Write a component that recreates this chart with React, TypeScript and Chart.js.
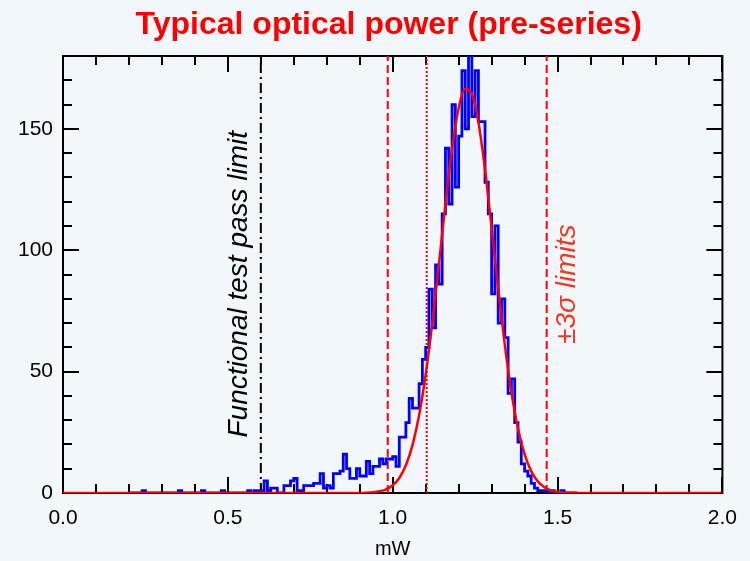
import React, { useEffect, useRef } from 'react';
import { Chart, registerables } from 'chart.js';

Chart.register(...registerables);

// ---- data ----
const HIST_START = 0.2; // mW, left edge of first bin
const BIN_WIDTH = 0.01; // mW
const histCounts = [
  0, 0, 0, 0, 1, 0, 0, 0, 0, 0, // 0.20
  0, 0, 0, 0, 0, 1, 0, 0, 0, 0, // 0.30
  0, 0, 1, 0, 0, 0, 0, 0, 1, 0, // 0.40
  0, 0, 0, 0, 0, 0, 1, 0, 1, 1, // 0.50
  1, 5, 1, 2, 2, 0, 0, 3, 3, 5, // 0.60
  6, 1, 1, 3, 3, 3, 4, 4, 8, 2, // 0.70
  3, 2, 8, 8, 9, 16, 10, 6, 6, 10, // 0.80
  7, 7, 13, 8, 11, 11, 14, 12, 14, 14, // 0.90
  15, 11, 23, 23, 29, 39, 35, 35, 45, 55, // 1.00
  60, 84, 68, 94, 86, 115, 142, 119, 160, 126, // 1.10
  147, 174, 150, 182, 155, 174, 153, 153, 128, 115, // 1.20
  82, 110, 70, 80, 64, 41, 47, 29, 21, 12, // 1.30
  9, 7, 4, 2, 1, 1, 1, 0, 1, 0, // 1.40
  0, 1, 0, 0, 0, 0, // 1.50
];

const gaussX = [
  0, 0.9, 0.92, 0.94, 0.96, 0.98, 1.0, 1.02, 1.04, 1.06, 1.08, 1.1, 1.12, 1.14,
  1.16, 1.18, 1.2, 1.22, 1.24, 1.26, 1.28, 1.3, 1.32, 1.34, 1.36, 1.38, 1.4,
  1.42, 1.44, 1.46, 1.48, 1.5, 1.52, 1.54, 1.56, 2.0,
];
const gaussY = [
  0, 0.04, 0.12, 0.29, 0.69, 1.5, 3.2, 6.2, 11.4, 19.7, 32.0, 48.8, 69.9, 94.1,
  119.1, 141.7, 158.5, 166.5, 164.5, 152.7, 133.2, 109.2, 84.1, 61.0, 41.5, 26.6,
  16.0, 9.0, 4.8, 2.4, 1.1, 0.5, 0.2, 0.08, 0.03, 0,
];

const passLimit = 0.6;
const sigmaLow = 0.985;
const sigmaHigh = 1.467;
const innerLimit = 1.103;
const labelY = 86; // vertical centre of the rotated labels, in counts

const X_MIN = 0;
const X_MAX = 2;
const Y_MIN = 0;
const Y_MAX = 180;

const titleText = 'Typical optical power (pre-series)';
const passText = 'Functional test pass limit';
const sigmaText = '\u00b13\u03c3 limits';
const xTitle = 'mW';

const FONT = "'Liberation Sans', Arial, Helvetica, sans-serif";

const decor = {
  id: 'decor',
  beforeDraw(chart: any) {
    const { ctx, width, height } = chart;
    ctx.save();
    ctx.fillStyle = '#f1f7fd';
    ctx.fillRect(0, 0, width, height);
    ctx.restore();
  },
  beforeDatasetsDraw(chart: any) {
    const { ctx, chartArea: a } = chart;
    const xs = chart.scales.x;
    const ys = chart.scales.y;
    ctx.save();
    ctx.strokeStyle = '#000';
    ctx.lineWidth = 2;
    ctx.beginPath();
    xs.ticks.forEach((t: any) => {
      const major = Math.abs(t.value * 2 - Math.round(t.value * 2)) < 1e-6;
      const len = major ? 16 : 9;
      const px = Math.round(xs.getPixelForValue(t.value));
      ctx.moveTo(px, a.bottom);
      ctx.lineTo(px, a.bottom - len);
      ctx.moveTo(px, a.top);
      ctx.lineTo(px, a.top + len);
    });
    ys.ticks.forEach((t: any) => {
      const major = t.value % 50 === 0;
      const len = major ? 16 : 9;
      const py = Math.round(ys.getPixelForValue(t.value));
      ctx.moveTo(a.left, py);
      ctx.lineTo(a.left + len, py);
      ctx.moveTo(a.right, py);
      ctx.lineTo(a.right - len, py);
    });
    ctx.stroke();
    ctx.strokeRect(a.left, a.top, a.right - a.left, a.bottom - a.top);
    ctx.restore();
  },
  afterDraw(chart: any) {
    const { ctx, chartArea: a } = chart;
    const xs = chart.scales.x;
    const ys = chart.scales.y;
    ctx.save();
    // title
    ctx.fillStyle = '#ff0000';
    ctx.font = `bold 32px ${FONT}`;
    ctx.textAlign = 'center';
    ctx.textBaseline = 'middle';
    ctx.fillText(titleText, (a.left + a.right) / 2 - 4, 25);

    // rotated annotations
    const yc = ys.getPixelForValue(labelY);
    ctx.font = `italic 28px ${FONT}`;
    ctx.fillStyle = '#000';
    ctx.save();
    ctx.translate(xs.getPixelForValue(passLimit) - 22, yc);
    ctx.rotate(-Math.PI / 2);
    ctx.fillText(passText, 0, 0);
    ctx.restore();

    ctx.fillStyle = '#f03a1e';
    ctx.save();
    ctx.translate(xs.getPixelForValue(sigmaHigh) + 21, yc);
    ctx.rotate(-Math.PI / 2);
    ctx.fillText(sigmaText, 0, 0);
    ctx.restore();
    ctx.restore();
  },
};

function vline(x: number, color: string, dash: number[]) {
  return {
    data: [
      { x, y: Y_MIN },
      { x, y: Y_MAX },
    ],
    borderColor: color,
    borderWidth: 2,
    borderDash: dash,
    pointRadius: 0,
    fill: false,
  };
}

export default function App() {
  const ref = useRef<HTMLCanvasElement | null>(null);

  useEffect(() => {
    if (!ref.current) return;
    const histData = histCounts.map((c, i) => ({
      x: +(HIST_START + i * BIN_WIDTH).toFixed(2),
      y: c,
    }));
    histData.push({
      x: +(HIST_START + histCounts.length * BIN_WIDTH).toFixed(2),
      y: 0,
    });
    const gaussData = gaussX.map((x, i) => ({ x, y: gaussY[i] }));

    const chart = new Chart(ref.current, {
      type: 'line',
      data: {
        datasets: [
          {
            data: gaussData,
            borderColor: '#ff0000',
            borderWidth: 2.5,
            pointRadius: 0,
            cubicInterpolationMode: 'monotone',
            fill: false,
          },
          {
            data: histData,
            borderColor: '#0000ff',
            borderWidth: 2.8,
            pointRadius: 0,
            stepped: true,
            fill: false,
          },
          vline(passLimit, '#000000', [10, 4, 2, 4]),
          vline(sigmaLow, '#ff0000', [8, 4]),
          vline(sigmaHigh, '#ff0000', [8, 4]),
          vline(innerLimit, '#ff0000', [2, 2]),
        ] as any,
      },
      options: {
        animation: false,
        responsive: false,
        events: [],
        layout: { padding: { top: 56, right: 27, left: 0, bottom: 0 } },
        plugins: {
          legend: { display: false },
          tooltip: { enabled: false },
          title: { display: false },
        },
        scales: {
          x: {
            type: 'linear',
            min: X_MIN,
            max: X_MAX,
            grid: { display: false, drawTicks: false },
            border: { display: false },
            ticks: {
              stepSize: 0.1,
              autoSkip: false,
              maxRotation: 0,
              padding: 13,
              color: '#000',
              font: { family: FONT, size: 21 },
              callback: (v: any) =>
                Math.abs(v * 2 - Math.round(v * 2)) < 1e-6 ? Number(v).toFixed(1) : '',
            },
            title: {
              display: true,
              text: xTitle,
              color: '#000',
              font: { family: FONT, size: 20 },
              padding: { top: 0, bottom: 0 },
            },
            afterFit: (s: any) => {
              s.height = 68;
            },
          },
          y: {
            type: 'linear',
            min: Y_MIN,
            max: Y_MAX,
            grid: { display: false, drawTicks: false },
            border: { display: false },
            ticks: {
              stepSize: 10,
              autoSkip: false,
              padding: 10,
              color: '#000',
              font: { family: FONT, size: 21 },
              callback: (v: any) => (Number(v) % 50 === 0 ? String(v) : ''),
            },
            afterFit: (s: any) => {
              s.width = 63;
            },
          },
        },
      } as any,
      plugins: [decor],
    });
    return () => chart.destroy();
  }, []);

  return (
    <div style={{ position: 'absolute', left: 0, top: 0, width: 750, height: 561 }}>
      <canvas ref={ref} width={750} height={561} />
    </div>
  );
}
